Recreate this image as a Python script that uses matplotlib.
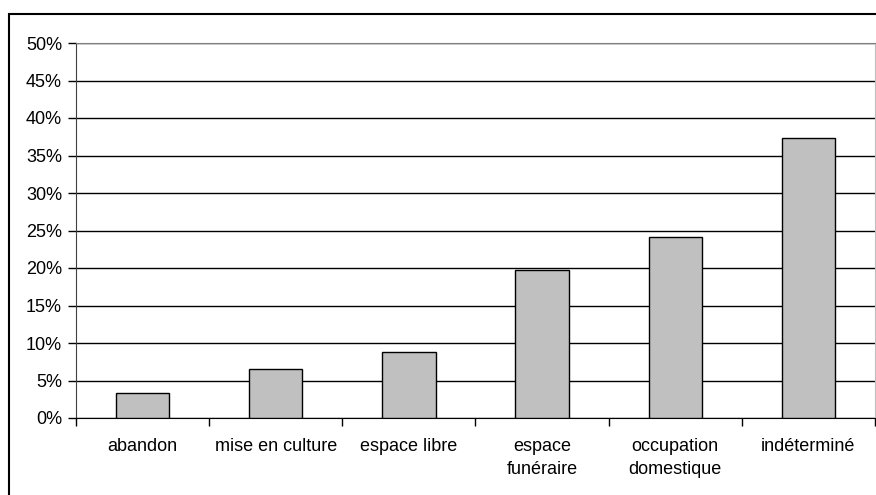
import matplotlib.pyplot as plt
import matplotlib.patches as patches
import numpy as np
from matplotlib.ticker import FuncFormatter

# données
categories = ['abandon', 'mise en culture', 'espace libre',
              'espace\nfunéraire', 'occupation\ndomestique', 'indéterminé']
valeurs = [3.3, 6.5, 8.75, 19.7, 24.2, 37.3]   # en %
yticks = np.arange(0, 51, 5)

plt.rcParams['font.family'] = ['Liberation Sans', 'DejaVu Sans']

fig = plt.figure(figsize=[8.76, 4.95], dpi=100)
ax = fig.add_axes([76 / 876, 1 - 418 / 495, 799 / 876, 375 / 495])

x = np.arange(len(categories))
ax.bar(x, valeurs, width=0.4, color='#c0c0c0', edgecolor='black', linewidth=1, zorder=3)

ax.set_xlim(-0.5, len(categories) - 0.5)
ax.set_ylim(0, 50)
ax.set_yticks(yticks)
ax.yaxis.set_major_formatter(FuncFormatter(lambda v, p: '%d%%' % v))
ax.yaxis.grid(True, color='black', linewidth=1)
ax.set_axisbelow(True)

# ticks de catégorie entre les barres
ax.set_xticks(np.arange(-0.5, len(categories), 1))
ax.set_xticklabels([])
ax.set_xticks(x, minor=True)
ax.set_xticklabels(categories, minor=True, fontsize=13, linespacing=1.45, va='top')
ax.tick_params(axis='x', which='minor', length=0, pad=14.5)
ax.tick_params(axis='x', which='major', length=6, width=1, direction='out')
ax.tick_params(axis='y', length=6, width=1, labelsize=13, pad=4)

ax.spines['top'].set_color('#808080')
ax.spines['right'].set_color('#c0c0c0')
ax.spines['left'].set_color('#404040')
ax.spines['bottom'].set_color('black')

# cadre extérieur du graphique
cadre = patches.Rectangle((9 / 876, -0.1), 1.0, 1 - 14 / 495 + 0.1, transform=fig.transFigure,
                          fill=False, edgecolor='black', linewidth=1.5)
fig.patches.append(cadre)

fig.savefig('out.png', dpi=100)
